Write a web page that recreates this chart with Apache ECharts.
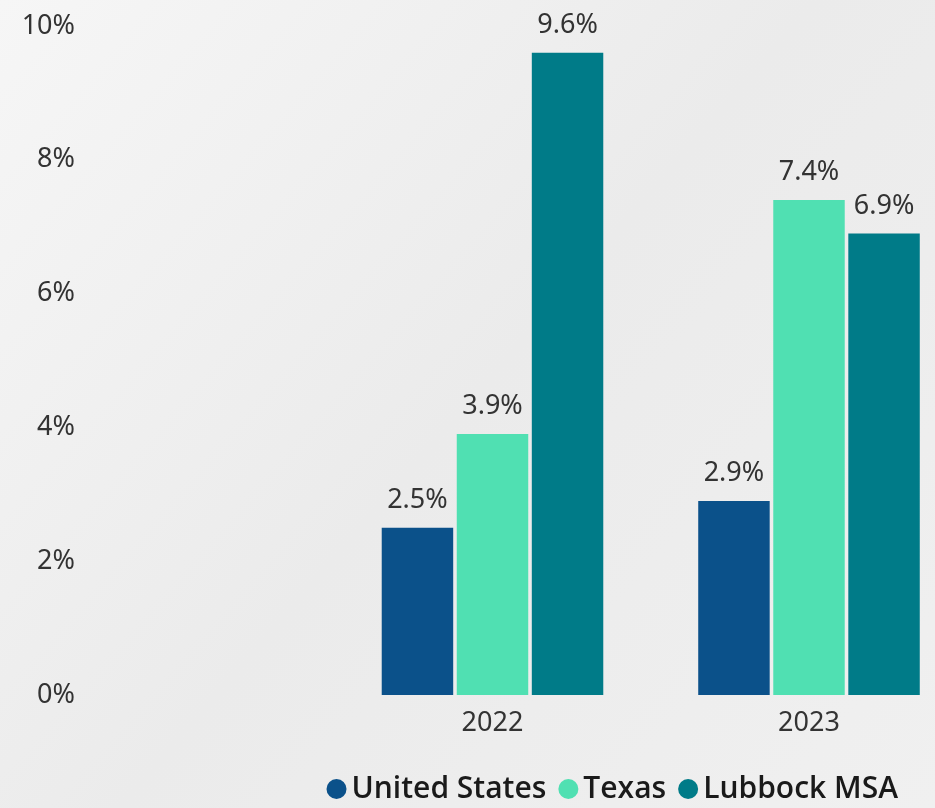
<!DOCTYPE html>
<html>
<head>
<meta charset="utf-8">
<script src="https://cdn.jsdelivr.net/npm/echarts@6/dist/echarts.min.js"></script>
<style>
    html, body { margin: 0; padding: 0; }
    #growthChart { width: 935px; height: 808px; }
</style>
</head>
<body>
<div id="growthChart"></div>
<script>
    // first slot is left empty, the two years sit on the right two ticks
    var years = ['', '2022', '2023'];
    var unitedStates = [null, 2.5, 2.9];
    var texas = [null, 3.9, 7.4];
    var lubbockMsa = [null, 9.6, 6.9];
    var seriesNames = ['United States', 'Texas', 'Lubbock MSA'];
    var seriesColors = ['#0b518a', '#50e0b2', '#007b88'];

    var chartDom = document.getElementById('growthChart');
    var myChart = echarts.init(chartDom);

    var barLabel = {
        show: true,
        position: 'top',
        distance: 14,
        color: '#333333',
        fontFamily: 'Noto Sans',
        fontSize: 27,
        formatter: function (p) {
            return p.value.toFixed(1) + '%';
        }
    };

    var makeSeries = function (name, data, color) {
        return {
            name: name,
            type: 'bar',
            data: data,
            clip: false,
            barGap: '5%',
            barCategoryGap: '30%',
            itemStyle: { color: color },
            label: barLabel
        };
    };

    var option = {
        backgroundColor: {
            type: 'linear', x: 0, y: 0, x2: 1, y2: 1,
            colorStops: [
                { offset: 0, color: '#f6f6f6' },
                { offset: 0.5, color: '#ebebeb' },
                { offset: 1, color: '#f0f0f0' }
            ]
        },
        color: seriesColors,
        animation: false,
        grid: {
            left: 176,
            right: 126,
            top: 26,
            bottom: 113,
            containLabel: false
        },
        legend: {
            data: seriesNames,
            right: 32,
            top: 769,
            icon: 'circle',
            itemWidth: 20,
            itemHeight: 20,
            itemGap: 12,
            textStyle: {
                color: '#1a1a1a',
                fontFamily: 'Open Sans',
                fontWeight: 600,
                fontSize: 30
            }
        },
        xAxis: {
            type: 'category',
            data: years,
            boundaryGap: false,
            axisLine: { show: false },
            axisTick: { show: false },
            axisLabel: {
                color: '#333333',
                fontFamily: 'Noto Sans',
                fontSize: 27,
                margin: 15
            }
        },
        yAxis: {
            type: 'value',
            min: 0,
            max: 10,
            interval: 2,
            splitLine: { show: false },
            axisLine: { show: false },
            axisTick: { show: false },
            axisLabel: {
                align: 'right',
                margin: 101,
                color: '#333333',
                fontFamily: 'Noto Sans',
                fontSize: 27,
                formatter: '{value}%'
            }
        },
        series: [
            makeSeries(seriesNames[0], unitedStates, seriesColors[0]),
            makeSeries(seriesNames[1], texas, seriesColors[1]),
            makeSeries(seriesNames[2], lubbockMsa, seriesColors[2])
        ]
    };

    myChart.setOption(option);
</script>
</body>
</html>
